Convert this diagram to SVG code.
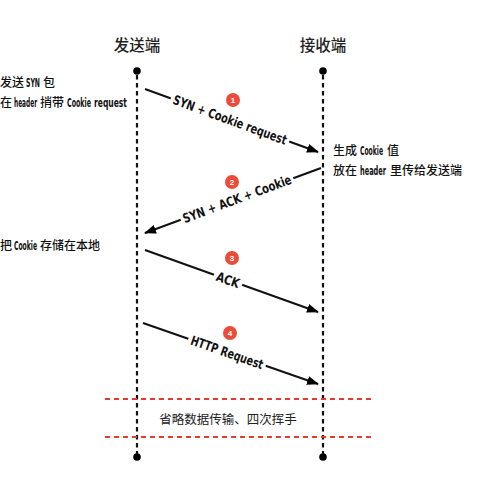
<svg xmlns="http://www.w3.org/2000/svg" width="500" height="487" viewBox="0 0 500 487">
<defs>
<marker id="ah" markerWidth="12" markerHeight="9" refX="11" refY="4.5" orient="auto" markerUnits="userSpaceOnUse">
<path d="M0,0 L12,4.5 L0,9 Z" fill="#000"/>
</marker>
<style>
.title{font-family:"Noto Sans CJK SC","Noto Sans",sans-serif;font-size:15.5px;font-weight:500;fill:#222;text-anchor:middle}
.cn{font-family:"Noto Sans CJK SC",sans-serif;font-size:12px;font-weight:500;fill:#111}
.la{font-family:"DejaVu Sans Condensed","Liberation Sans",sans-serif;font-size:12.5px;font-weight:bold;fill:#111}
.lbl{font-family:"DejaVu Sans Condensed","Liberation Sans",sans-serif;font-weight:bold;font-size:13px;fill:#111;text-anchor:middle;dominant-baseline:central}
.life{stroke:#111;stroke-width:2.2;stroke-dasharray:4.5 3.5;fill:none}
.msg{stroke:#111;stroke-width:2;fill:none;marker-end:url(#ah)}
.red{stroke:#e53b2c;stroke-width:1.8;stroke-dasharray:5 4;fill:none}
.badge{fill:#ea4c3c}
.bnum{font-family:"Liberation Sans",sans-serif;font-size:8px;font-weight:bold;fill:#fff;text-anchor:middle;dominant-baseline:central}
.dot{fill:#000}
.mid{font-family:"Noto Sans CJK SC",sans-serif;font-size:12.5px;fill:#222;text-anchor:middle}
</style>
</defs>
<rect width="500" height="487" fill="#fff"/>

<g id="sender">
<text class="title" x="137" y="51">发送端</text>
<circle class="dot" cx="137" cy="71" r="3.8"/>
<circle class="dot" cx="137" cy="457" r="3.8"/>
</g>
<g id="receiver">
<text class="title" x="323" y="51">接收端</text>
<circle class="dot" cx="323" cy="71" r="3.8"/>
<circle class="dot" cx="323" cy="457" r="3.8"/>
</g>

<g id="lifelines">
<line class="life" x1="137" y1="75" x2="137" y2="454"/>
<line class="life" x1="323" y1="75" x2="323" y2="454"/>
</g>

<g id="note-send-syn">
<text class="cn" x="0" y="87">发送</text>
<text class="la" transform="translate(26,87) scale(0.58,1)" textLength="24.1" lengthAdjust="spacingAndGlyphs">SYN</text>
<text class="cn" x="43" y="87">包</text>
</g>
<g id="note-carry">
<text class="cn" x="0" y="107">在</text>
<text class="la" transform="translate(14,107) scale(0.58,1)" textLength="39.7" lengthAdjust="spacingAndGlyphs">header</text>
<text class="cn" x="40" y="107">捎带</text>
<text class="la" transform="translate(67,107) scale(0.58,1)" textLength="41.4" lengthAdjust="spacingAndGlyphs">Cookie</text>
<text class="la" transform="translate(94,107) scale(0.58,1)" textLength="56.9" lengthAdjust="spacingAndGlyphs">request</text>
</g>
<g id="note-gen">
<text class="cn" x="333" y="155">生成</text>
<text class="la" transform="translate(360,155) scale(0.58,1)" textLength="39.7" lengthAdjust="spacingAndGlyphs">Cookie</text>
<text class="cn" x="387" y="155">值</text>
</g>
<g id="note-put">
<text class="cn" x="333" y="175">放在</text>
<text class="la" transform="translate(360,175) scale(0.58,1)" textLength="44.8" lengthAdjust="spacingAndGlyphs">header</text>
<text class="cn" x="390" y="175">里传给发送端</text>
</g>
<g id="note-store">
<text class="cn" x="0" y="250">把</text>
<text class="la" transform="translate(14,250) scale(0.58,1)" textLength="39.7" lengthAdjust="spacingAndGlyphs">Cookie</text>
<text class="cn" x="40" y="250">存储在本地</text>
</g>

<g id="connectors">
<line class="msg" x1="145" y1="89" x2="318" y2="152"/>
<line class="msg" x1="321" y1="168" x2="145" y2="233"/>
<line class="msg" x1="145" y1="250" x2="318" y2="312"/>
<line class="msg" x1="143" y1="323" x2="318" y2="384"/>
</g>

<g id="label1" transform="translate(230,120) rotate(20.1)">
<rect x="-63" y="-8" width="126" height="16" fill="#fff"/>
<text class="lbl" x="0" y="0" textLength="120" lengthAdjust="spacingAndGlyphs">SYN + Cookie request</text>
</g>
<g id="label2" transform="translate(237,199) rotate(-20.3)">
<rect x="-60" y="-8" width="120" height="16" fill="#fff"/>
<text class="lbl" x="0" y="0" textLength="115" lengthAdjust="spacingAndGlyphs">SYN + ACK + Cookie</text>
</g>
<g id="label3" transform="translate(228,280) rotate(19.8)">
<rect x="-15" y="-8" width="30" height="16" fill="#fff"/>
<text class="lbl" x="0" y="0" textLength="24" lengthAdjust="spacingAndGlyphs">ACK</text>
</g>
<g id="label4" transform="translate(227,352.5) rotate(19.3)">
<rect x="-41" y="-8" width="82" height="16" fill="#fff"/>
<text class="lbl" x="0" y="0" textLength="76" lengthAdjust="spacingAndGlyphs">HTTP Request</text>
</g>

<g id="badge1"><circle class="badge" cx="233" cy="100" r="7"/><text class="bnum" x="233" y="100">1</text></g>
<g id="badge2"><circle class="badge" cx="232" cy="182" r="7"/><text class="bnum" x="232" y="182">2</text></g>
<g id="badge3"><circle class="badge" cx="232" cy="258" r="7"/><text class="bnum" x="232" y="258">3</text></g>
<g id="badge4"><circle class="badge" cx="230" cy="333" r="7"/><text class="bnum" x="230" y="333">4</text></g>

<g id="omitted">
<line class="red" x1="105" y1="399" x2="372" y2="399"/>
<line class="red" x1="105" y1="437" x2="372" y2="437"/>
<text class="mid" x="228" y="424">省略数据传输、四次挥手</text>
</g>
</svg>
